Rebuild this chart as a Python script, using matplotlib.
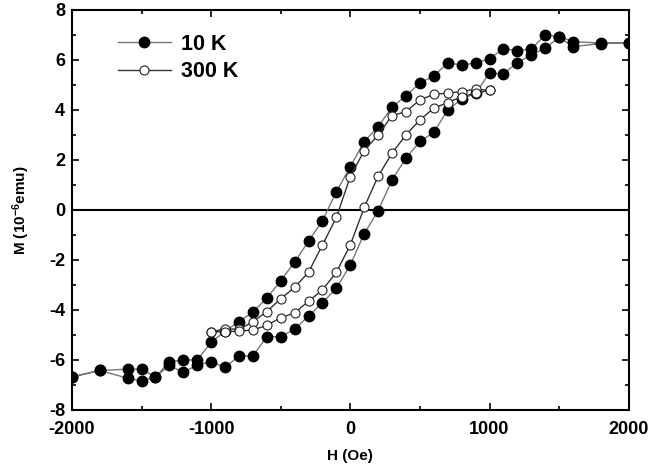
import matplotlib
matplotlib.use("Agg")
import matplotlib.pyplot as plt
from matplotlib.ticker import MultipleLocator

plt.rcParams['font.family'] = ['Liberation Sans', 'DejaVu Sans']
plt.rcParams['font.weight'] = 'bold'
plt.rcParams['axes.unicode_minus'] = False
plt.rcParams['mathtext.fontset'] = 'custom'
plt.rcParams['mathtext.bf'] = 'Liberation Sans:bold'
plt.rcParams['mathtext.rm'] = 'Liberation Sans:bold'
plt.rcParams['mathtext.default'] = 'bf'

# -------- 10 K loop -------- #
h10_down = [2000, 1800, 1600, 1500, 1400, 1300, 1200, 1100, 1000, 900, 800, 700,
            600, 500, 400, 300, 200, 100, 0, -100, -200, -300, -400, -500, -600,
            -700, -800, -900, -1000, -1100, -1200, -1300, -1400, -1500, -1600,
            -1800, -2000]
m10_down = [6.69, 6.67, 6.73, 6.93, 7.0, 6.43, 6.37, 6.44, 6.05, 5.87, 5.8, 5.87,
            5.36, 5.07, 4.57, 4.11, 3.33, 2.73, 1.73, 0.73, -0.43, -1.25, -2.09,
            -2.83, -3.53, -4.08, -4.47, -4.85, -5.3, -6.0, -6.0, -6.07, -6.68,
            -6.37, -6.37, -6.42, -6.68]

h10_up = [-2000, -1800, -1600, -1500, -1400, -1300, -1200, -1100, -1000, -900,
          -800, -700, -600, -500, -400, -300, -200, -100, 0, 100, 200, 300, 400,
          500, 600, 700, 800, 900, 1000, 1100, 1200, 1300, 1400, 1500, 1600,
          1800, 2000]
m10_up = [-6.68, -6.42, -6.73, -6.84, -6.68, -6.22, -6.5, -6.2, -6.07, -6.3,
          -5.84, -5.84, -5.07, -5.07, -4.77, -4.24, -3.71, -3.13, -2.2, -0.95,
          -0.03, 1.2, 2.07, 2.74, 3.1, 4.0, 4.43, 4.67, 5.47, 5.44, 5.89, 6.2,
          6.47, 6.9, 6.53, 6.65, 6.69]

# -------- 300 K loop -------- #
h300_down = [1000, 900, 800, 700, 600, 500, 400, 300, 200, 100, 0, -100, -200,
             -300, -400, -500, -600, -700, -800, -900, -1000]
m300_down = [4.78, 4.83, 4.73, 4.67, 4.62, 4.4, 3.93, 3.77, 3.0, 2.37, 1.33,
             -0.3, -1.4, -2.49, -3.1, -3.55, -4.07, -4.47, -4.78, -4.75, -4.88]

h300_up = [-1000, -900, -800, -700, -600, -500, -400, -300, -200, -100, 0, 100,
           200, 300, 400, 500, 600, 700, 800, 900, 1000]
m300_up = [-4.88, -4.87, -4.85, -4.8, -4.62, -4.31, -4.12, -3.65, -3.2, -2.49,
           -1.4, 0.1, 1.35, 2.27, 3.0, 3.6, 4.07, 4.29, 4.53, 4.66, 4.78]

# -------- Plot -------- #
fig = plt.figure(figsize=(6.66, 4.68), dpi=100)
ax = fig.add_axes([0.108, 0.124, 0.836, 0.855])

ax.axhline(0, color='black', linewidth=1.5, zorder=1)

ax.plot(h10_down + h10_up, m10_down + m10_up, color='#777777', linewidth=1,
        marker='o', markersize=7.5, markerfacecolor='black', markeredgecolor='black',
        label='10 K', zorder=3)
ax.plot(h300_down + h300_up, m300_down + m300_up, color='#333333', linewidth=1,
        marker='o', markersize=6.5, markerfacecolor='white', markeredgecolor='#222222',
        markeredgewidth=0.8, label='300 K', zorder=4)

ax.set_xlim(-2000, 2000)
ax.set_ylim(-8, 8)
ax.xaxis.set_major_locator(MultipleLocator(1000))
ax.xaxis.set_minor_locator(MultipleLocator(500))
ax.yaxis.set_major_locator(MultipleLocator(2))
ax.yaxis.set_minor_locator(MultipleLocator(1))
ax.tick_params(which='both', direction='in', top=True, right=True, width=1.2)
ax.tick_params(which='major', length=5, labelsize=13)
ax.tick_params(axis='x', which='major', pad=8)
ax.tick_params(axis='y', which='major', pad=5)
ax.tick_params(which='minor', length=3)
for s in ax.spines.values():
    s.set_linewidth(1.5)

ax.set_xlabel("H (Oe)", fontsize=11, fontweight='bold', labelpad=8)
ax.set_ylabel(r"M (10$^{-6}$emu)", fontsize=11, fontweight='bold', labelpad=12)

ax.legend(loc='upper left', bbox_to_anchor=(0.082, 0.94), frameon=False,
          fontsize=15.5, handlelength=2.5, handletextpad=0.45, labelspacing=0.3,
          borderpad=0, borderaxespad=0)

fig.savefig("out.png", dpi=100)
